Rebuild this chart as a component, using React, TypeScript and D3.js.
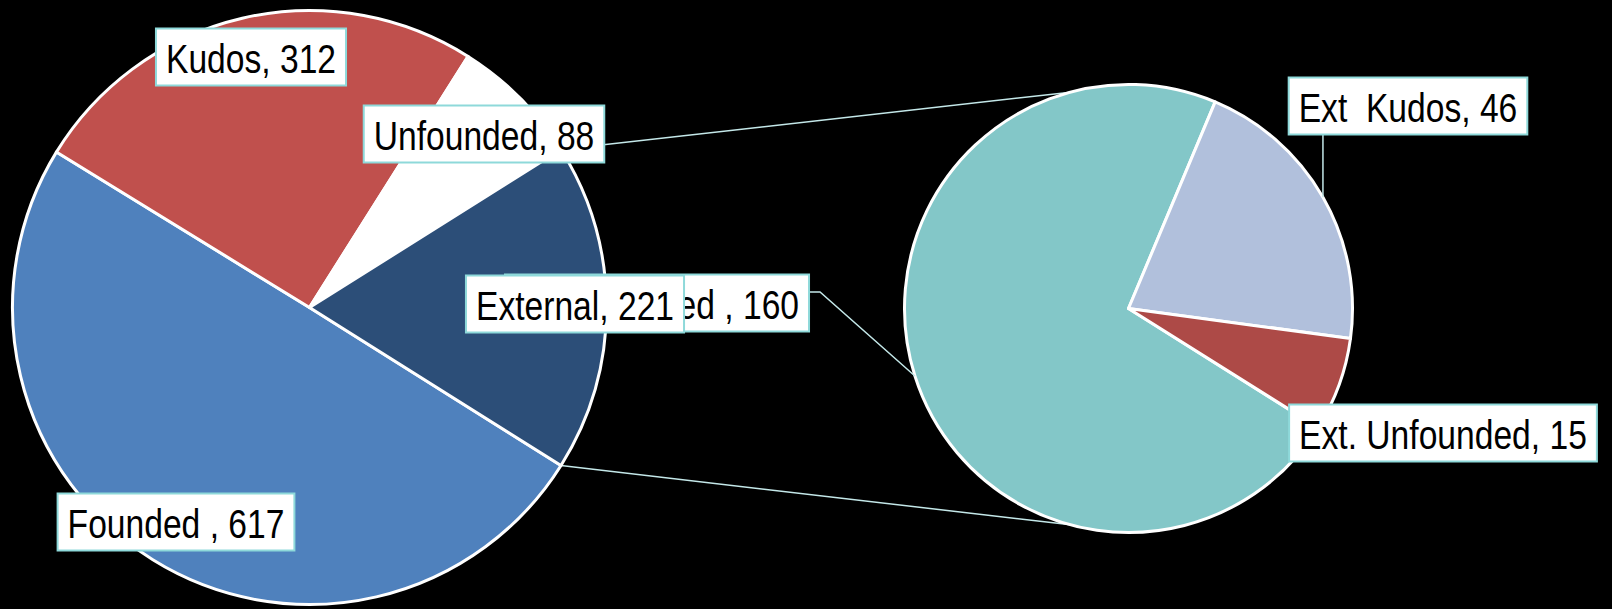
import { useEffect, useRef } from 'react'
import * as d3 from 'd3'

const W = 1612
const H = 609

// main pie
const mainLabels = ['Founded ', 'Kudos', 'Unfounded', 'External']
const mainValues = [617, 312, 88, 221]
const mainColors = ['#4F81BD', '#C0504D', '#FFFFFF', '#2C4E78']

// secondary pie (split of External)
const subLabels = ['Ext. Founded ', 'Ext  Kudos', 'Ext. Unfounded']
const subValues = [160, 46, 15]
const subColors = ['#83C7C8', '#B1C0DC', '#AD4A47']

// label box centres (manually placed, like in the source sheet)
const mainLabelPos: [number, number][] = [[176, 522], [251, 57], [484, 134], [575, 304]]
const subLabelPos: [number, number][] = [[657, 303], [1408, 106], [1443, 433]]

const MAIN = { cx: 309.5, cy: 307.5, r: 297 }
const SUB = { cx: 1128.5, cy: 308.5, r: 224 }

// no narrow face installed: squeeze Liberation Sans to Arial Narrow proportions
const FONT = "'Liberation Sans', Arial, sans-serif"
const SQUEEZE = 0.82
const BORDER = '#8ED9DA'
const LINE = '#C4E8E9'

export default function App() {
  const svgRef = useRef<SVGSVGElement>(null)

  useEffect(() => {
    document.body.style.margin = '0'
    document.body.style.background = '#000'
    if (!svgRef.current) return
    const svg = d3.select(svgRef.current)
    svg.selectAll('*').remove()

    svg.append('rect').attr('width', W).attr('height', H).attr('fill', '#000')

    const total = d3.sum(mainValues)
    const extAngle = (2 * Math.PI * mainValues[3]) / total
    const start = Math.PI / 2 + extAngle / 2

    const pie = d3.pie<number>().sort(null).startAngle(start).endAngle(start + 2 * Math.PI)
    const mainArcs = pie(mainValues)
    const subArcs = pie(subValues)

    const pt = (c: typeof MAIN, a: number, r = c.r): [number, number] => [
      c.cx + r * Math.sin(a),
      c.cy - r * Math.cos(a),
    ]

    // connector lines between the two pies
    const ext = mainArcs[3]
    const conn = svg.append('g').attr('stroke', LINE).attr('stroke-width', 1.5).attr('fill', 'none')
    const topA = (-15 * Math.PI) / 180
    const botA = (195 * Math.PI) / 180
    conn.append('line')
      .attr('x1', pt(MAIN, ext.startAngle)[0]).attr('y1', pt(MAIN, ext.startAngle)[1])
      .attr('x2', pt(SUB, topA)[0]).attr('y2', pt(SUB, topA)[1])
    conn.append('line')
      .attr('x1', pt(MAIN, ext.endAngle)[0]).attr('y1', pt(MAIN, ext.endAngle)[1])
      .attr('x2', pt(SUB, botA)[0]).attr('y2', pt(SUB, botA)[1])

    const arcMain = d3.arc<d3.PieArcDatum<number>>().innerRadius(0).outerRadius(MAIN.r)
    const arcSub = d3.arc<d3.PieArcDatum<number>>().innerRadius(0).outerRadius(SUB.r)

    svg.append('g')
      .attr('transform', `translate(${MAIN.cx},${MAIN.cy})`)
      .selectAll('path')
      .data(mainArcs)
      .enter()
      .append('path')
      .attr('d', arcMain)
      .attr('fill', (_, i) => mainColors[i])
      .attr('stroke', '#fff')
      .attr('stroke-width', 3)
      .attr('stroke-linejoin', 'round')

    svg.append('g')
      .attr('transform', `translate(${SUB.cx},${SUB.cy})`)
      .selectAll('path')
      .data(subArcs)
      .enter()
      .append('path')
      .attr('d', arcSub)
      .attr('fill', (_, i) => subColors[i])
      .attr('stroke', '#fff')
      .attr('stroke-width', 3)
      .attr('stroke-linejoin', 'round')

    // data labels
    const lg = svg.append('g')
    function drawLabel(text: string, pos: [number, number]) {
      const g = lg.append('g')
      const rect = g.append('rect')
      const t = g.append('text')
        .attr('transform', `translate(${pos[0]},${pos[1] + 2}) scale(${SQUEEZE},1)`)
        .attr('text-anchor', 'middle')
        .attr('dominant-baseline', 'central')
        .attr('font-family', FONT)
        .attr('font-size', 41)
        .attr('fill', '#000')
        .style('white-space', 'pre')
        .text(text)
      const w = (t.node() as SVGTextElement).getComputedTextLength() * SQUEEZE + 20
      const h = 57
      rect
        .attr('x', pos[0] - w / 2)
        .attr('y', pos[1] - h / 2)
        .attr('width', w)
        .attr('height', h)
        .attr('fill', '#fff')
        .attr('stroke', BORDER)
        .attr('stroke-width', 2)
      return { x0: pos[0] - w / 2, x1: pos[0] + w / 2, y0: pos[1] - h / 2, y1: pos[1] + h / 2 }
    }

    // leader lines for the secondary labels
    const leaders = svg.insert('g', () => lg.node() as Element)
      .attr('stroke', LINE).attr('stroke-width', 1.5).attr('fill', 'none')

    // Ext Founded label first so the External label sits on top of it
    const subBoxes = subLabels.map((l, i) => drawLabel(`${l}, ${subValues[i]}`, subLabelPos[i]))
    mainLabels.forEach((l, i) => drawLabel(`${l}, ${mainValues[i]}`, mainLabelPos[i]))

    const midF = (subArcs[0].startAngle + subArcs[0].endAngle) / 2
    const pF = pt(SUB, midF)
    const bF = subBoxes[0]
    const yF = (bF.y0 + bF.y1) / 2 - 11
    leaders.append('path').attr('d', d3.line()([[bF.x1, yF], [bF.x1 + 11, yF], pF]))

    const midK = (subArcs[1].startAngle + subArcs[1].endAngle) / 2
    const pK = pt(SUB, midK)
    leaders.append('line')
      .attr('x1', pK[0]).attr('y1', subBoxes[1].y1)
      .attr('x2', pK[0]).attr('y2', pK[1])
  }, [])

  return <svg ref={svgRef} width={W} height={H} style={{ display: 'block' }} />
}
